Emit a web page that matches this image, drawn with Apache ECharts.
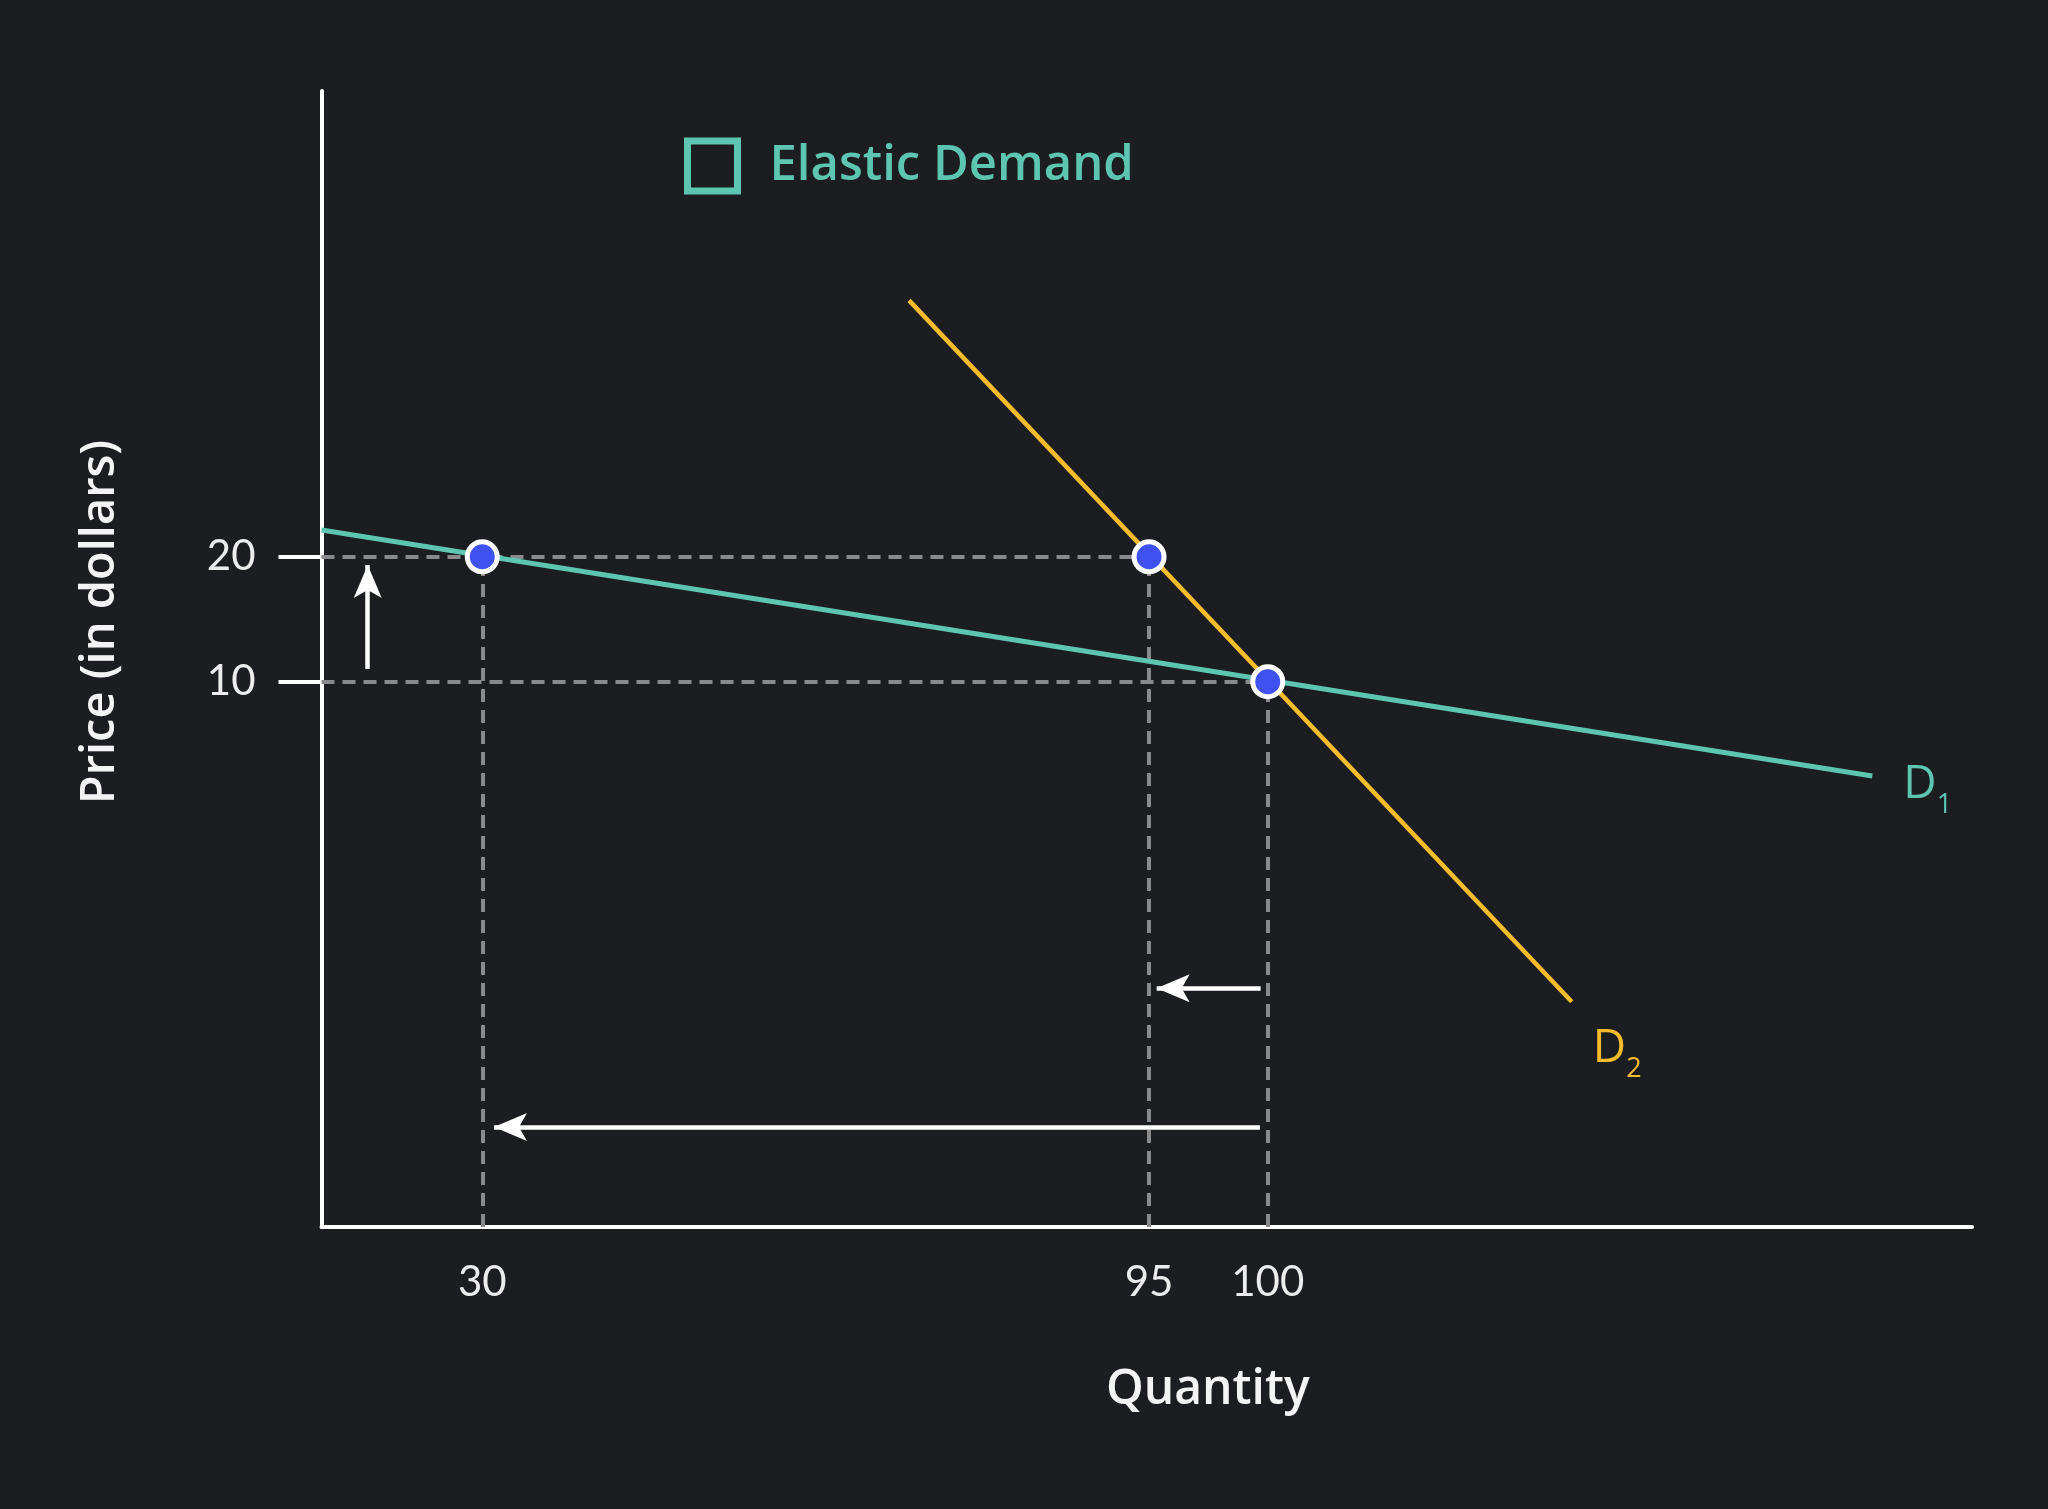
<!DOCTYPE html>
<html>
<head>
<meta charset="utf-8">
<script src="https://cdn.jsdelivr.net/npm/echarts@6/dist/echarts.min.js"></script>
<style>
  html, body { margin: 0; padding: 0; background: #1c1d21; }
  #chart { width: 2048px; height: 1509px; }
</style>
</head>
<body>
<div id="chart"></div>
<script>
// Schematic diagram: both axes run 0..100 in drawing units, the
// economic values (30, 95, 100 / 10, 20) are only tick labels.
const qTickPos = [9.74, 50.14, 57.33];
const qTickLabels = ['30', '95', '100'];
const pTickPos = [48.0, 59.0];
const pTickLabels = ['10', '20'];

const d1Line = [[0, 61.36], [93.96, 39.7]];
const d2Line = [[35.6, 81.57], [75.75, 19.83]];

// price/quantity combinations (blue dots)
const points = [[9.74, 59.0], [50.14, 59.0], [57.33, 48.0]];

// dashed guides: [price level, quantity where it stops]
const priceGuides = [[59.0, 50.14], [48.0, 57.33]];

// arrows: [from, to(tip)]
const arrows = [
    [[2.80, 49.12], [2.80, 58.27]],
    [[56.90, 21.01], [50.60, 21.01]],
    [[56.86, 8.80], [10.45, 8.80]],
];

const COLORS = {
    bg: '#1c1d21',
    d1: '#5dc6b2',
    d2: '#f6bc2b',
    dot: '#3f51f0',
    guide: '#8a8a8c',
    axis: '#ffffff',
    text: '#ececec',
};
const FONT = 'Lato, "Open Sans", sans-serif';
const TITLE_FONT = '"Open Sans", Lato, sans-serif';

const guideCoords = [];
for (const g of priceGuides) guideCoords.push({ coords: [[0, g[0]], [g[1], g[0]]] });
for (const p of points) guideCoords.push({ coords: [[p[0], 0], [p[0], p[1]]] });

// arrow head with its tip at the centre of the symbol box
const ARROW_HEAD = 'path://M0,-33L0.01,-33Z M0,0 L14,33 L0,25 L-14,33 Z';

function subLabel(color) {
    return {
        show: true,
        color,
        fontFamily: TITLE_FONT,
        rich: {
            d: { fontSize: 46, lineHeight: 46, fontWeight: 500, color, fontFamily: TITLE_FONT, verticalAlign: 'top' },
            s: { fontSize: 27, lineHeight: 27, color, fontFamily: TITLE_FONT, verticalAlign: 'top', padding: [30, 0, 0, 0] },
        },
    };
}

const chart = echarts.init(document.getElementById('chart'), null, { renderer: 'canvas' });
chart.setOption({
    backgroundColor: COLORS.bg,
    animation: false,
    textStyle: { fontFamily: FONT },
    grid: { left: 321.5, right: 76, top: 91, bottom: 282, containLabel: false },
    legend: {
        left: 684,
        top: 133,
        padding: 0,
        itemWidth: 50,
        itemHeight: 50,
        selectedMode: false,
        data: [{
            name: 'Elastic Demand',
            icon: 'rect',
            itemStyle: { color: 'transparent', borderColor: COLORS.d1, borderWidth: 7 },
        }],
        textStyle: { color: COLORS.d1, fontSize: 49, fontWeight: 600, fontFamily: TITLE_FONT, lineHeight: 50, padding: [16, 0, 0, 27] },
    },
    xAxis: {
        type: 'value',
        min: 0,
        max: 100,
        name: 'Quantity',
        nameLocation: 'middle',
        nameGap: 139,
        nameTextStyle: { color: '#f4f4f4', fontSize: 48, fontWeight: 600, fontFamily: TITLE_FONT, padding: [0, 0, 0, 122] },
        axisLine: { lineStyle: { color: COLORS.axis, width: 4 } },
        axisTick: { show: false },
        splitLine: { show: false },
        axisLabel: {
            customValues: qTickPos,
            formatter: v => qTickLabels[qTickPos.indexOf(v)],
            color: COLORS.text, fontSize: 42, fontFamily: FONT, margin: 34,
        },
    },
    yAxis: {
        type: 'value',
        min: 0,
        max: 100,
        name: 'Price (in dollars)',
        nameLocation: 'middle',
        nameGap: 197,
        nameTextStyle: { color: '#f4f4f4', fontSize: 47, fontWeight: 600, fontFamily: TITLE_FONT, padding: [0, 0, 0, 74] },
        axisLine: { lineStyle: { color: COLORS.axis, width: 4 } },
        axisTick: { customValues: pTickPos, length: 43, lineStyle: { color: COLORS.axis, width: 4 } },
        splitLine: { show: false },
        axisLabel: {
            customValues: pTickPos,
            formatter: v => pTickLabels[pTickPos.indexOf(v)],
            color: COLORS.text, fontSize: 42, fontFamily: FONT, margin: 66,
        },
    },
    series: [
        {
            name: 'guides',
            type: 'lines',
            coordinateSystem: 'cartesian2d',
            silent: true,
            z: 1,
            symbol: 'none',
            lineStyle: { color: COLORS.guide, width: 4, type: [13, 8], opacity: 1 },
            data: guideCoords,
        },
        {
            name: 'Elastic Demand',
            type: 'line',
            z: 2,
            data: d1Line,
            symbol: 'none',
            lineStyle: { color: COLORS.d1, width: 5 },
            itemStyle: { color: COLORS.d1 },
            endLabel: Object.assign(subLabel(COLORS.d1), { formatter: '{d|D}{s|1}', distance: 31, offset: [0, 9] }),
        },
        {
            name: 'D2',
            type: 'line',
            z: 2,
            data: d2Line,
            symbol: 'none',
            lineStyle: { color: COLORS.d2, width: 4.5 },
            itemStyle: { color: COLORS.d2 },
            endLabel: Object.assign(subLabel(COLORS.d2), { formatter: '{d|D}{s|2}', distance: 21, offset: [0, 47] }),
        },
        {
            name: 'arrows',
            type: 'lines',
            coordinateSystem: 'cartesian2d',
            silent: true,
            z: 3,
            symbol: ['none', ARROW_HEAD],
            symbolSize: [10, [28, 66]],
            lineStyle: { color: '#ffffff', width: 4.5, opacity: 1 },
            itemStyle: { color: '#ffffff' },
            data: arrows.map(a => ({ coords: a })),
        },
        {
            name: 'points',
            type: 'scatter',
            z: 4,
            data: points,
            symbolSize: 30,
            itemStyle: { color: COLORS.dot, borderColor: '#ffffff', borderWidth: 5, opacity: 1 },
        },
    ],
});
</script>
</body>
</html>
